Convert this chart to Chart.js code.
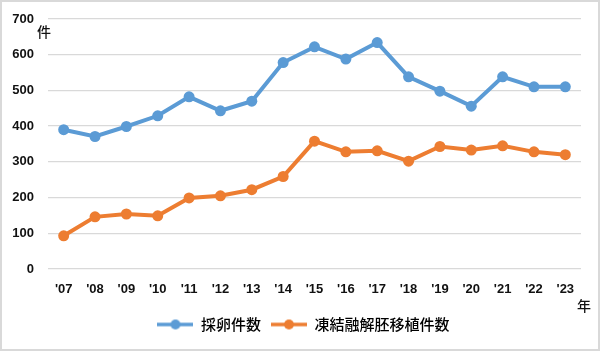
<!DOCTYPE html>
<html>
<head>
<meta charset="utf-8">
<script src="https://cdn.jsdelivr.net/npm/chart.js@4"></script>
<style>
  body { margin: 0; background: #fff; }
  #wrap {
    position: absolute; left: 0; top: 0;
    width: 600px; height: 351px;
    box-sizing: border-box;
    border: 2px solid #d9d9d9;
  }
</style>
</head>
<body>
<div id="wrap"><canvas id="chart_eggs" width="596" height="347"></canvas></div>
<script>
const years = ["'07", "'08", "'09", "'10", "'11", "'12", "'13", "'14", "'15", "'16", "'17", "'18", "'19", "'20", "'21", "'22", "'23"];
const eggRetrieval = [390, 371, 399, 429, 482, 443, 470, 578, 622, 588, 634, 538, 498, 456, 538, 510, 510];
const frozenTransfer = [93, 146, 154, 149, 199, 205, 222, 259, 358, 328, 331, 302, 343, 333, 345, 328, 320];
const seriesNames = ["採卵件数", "凍結融解胚移植件数"];

const blue = "#5b9bd5";
const orange = "#ed7d31";
const jpFont = "'Noto Sans CJK JP', sans-serif";
const numFont = "'Liberation Sans', Arial, sans-serif";

// legend marker: short line with a dot in the middle
function legendMarker(color) {
  const c = document.createElement("canvas");
  c.width = 36;
  c.height = 12;
  const g = c.getContext("2d");
  g.strokeStyle = color;
  g.lineWidth = 3.5;
  g.beginPath();
  g.moveTo(0, 6);
  g.lineTo(36, 6);
  g.stroke();
  g.fillStyle = color;
  g.beginPath();
  g.arc(18, 6, 5, 0, Math.PI * 2);
  g.fill();
  return c;
}

// unit labels 件 / 年, and nudge the legend a bit right like the original
const unitLabels = {
  id: "unitLabels",
  afterLayout(chart) {
    if (chart.legend) {
      chart.legend.left += 12;
      chart.legend.right += 12;
    }
  },
  afterDraw(chart) {
    const { ctx, chartArea } = chart;
    ctx.save();
    ctx.fillStyle = "#111";
    ctx.font = "500 14px " + jpFont;
    ctx.textAlign = "center";
    ctx.textBaseline = "middle";
    ctx.fillText("件", chartArea.left - 4, chartArea.top + 13);
    ctx.fillText("年", chartArea.right + 3, chartArea.bottom + 37);
    ctx.restore();
  },
};

const ctx = document.getElementById("chart_eggs").getContext("2d");
new Chart(ctx, {
  type: "line",
  data: {
    labels: years,
    datasets: [
      {
        label: seriesNames[0],
        data: eggRetrieval,
        borderColor: blue,
        backgroundColor: blue,
        borderWidth: 4,
        pointRadius: 5.5,
        pointBorderWidth: 0,
        pointStyle: "circle",
        tension: 0,
      },
      {
        label: seriesNames[1],
        data: frozenTransfer,
        borderColor: orange,
        backgroundColor: orange,
        borderWidth: 4,
        pointRadius: 5.5,
        pointBorderWidth: 0,
        pointStyle: "circle",
        tension: 0,
      },
    ],
  },
  options: {
    responsive: false,
    animation: false,
    layout: {
      padding: { left: 0, right: 17, top: 17, bottom: 7 },
    },
    plugins: {
      tooltip: { enabled: false },
      legend: {
        position: "bottom",
        labels: {
          usePointStyle: true,
          pointStyleWidth: 36,
          padding: 10,
          color: "#111",
          font: { family: jpFont, size: 15, weight: "500" },
          generateLabels: (chart) =>
            chart.data.datasets.map((ds, i) => ({
              datasetIndex: i,
              text: ds.label,
              pointStyle: legendMarker(ds.borderColor),
              fillStyle: ds.borderColor,
              strokeStyle: ds.borderColor,
              lineWidth: 0,
              hidden: false,
            })),
        },
      },
    },
    scales: {
      x: {
        offset: true,
        grid: { display: false, drawTicks: false },
        border: { display: false },
        ticks: {
          padding: 13,
          color: "#111",
          font: { family: numFont, size: 13, weight: "bold" },
          maxRotation: 0,
          autoSkip: false,
        },
        afterFit(scale) {
          scale.height = 38;
        },
      },
      y: {
        min: 0,
        max: 700,
        grid: { color: "#d9d9d9", lineWidth: 1.3, drawTicks: false },
        border: { display: false },
        ticks: {
          stepSize: 100,
          padding: 14,
          color: "#111",
          font: { family: numFont, size: 13, weight: "bold" },
        },
        afterFit(scale) {
          scale.width = 46;
          // tick padding would otherwise push the plot top down
          scale.paddingTop = 0;
        },
      },
    },
  },
  plugins: [unitLabels],
});
</script>
</body>
</html>
